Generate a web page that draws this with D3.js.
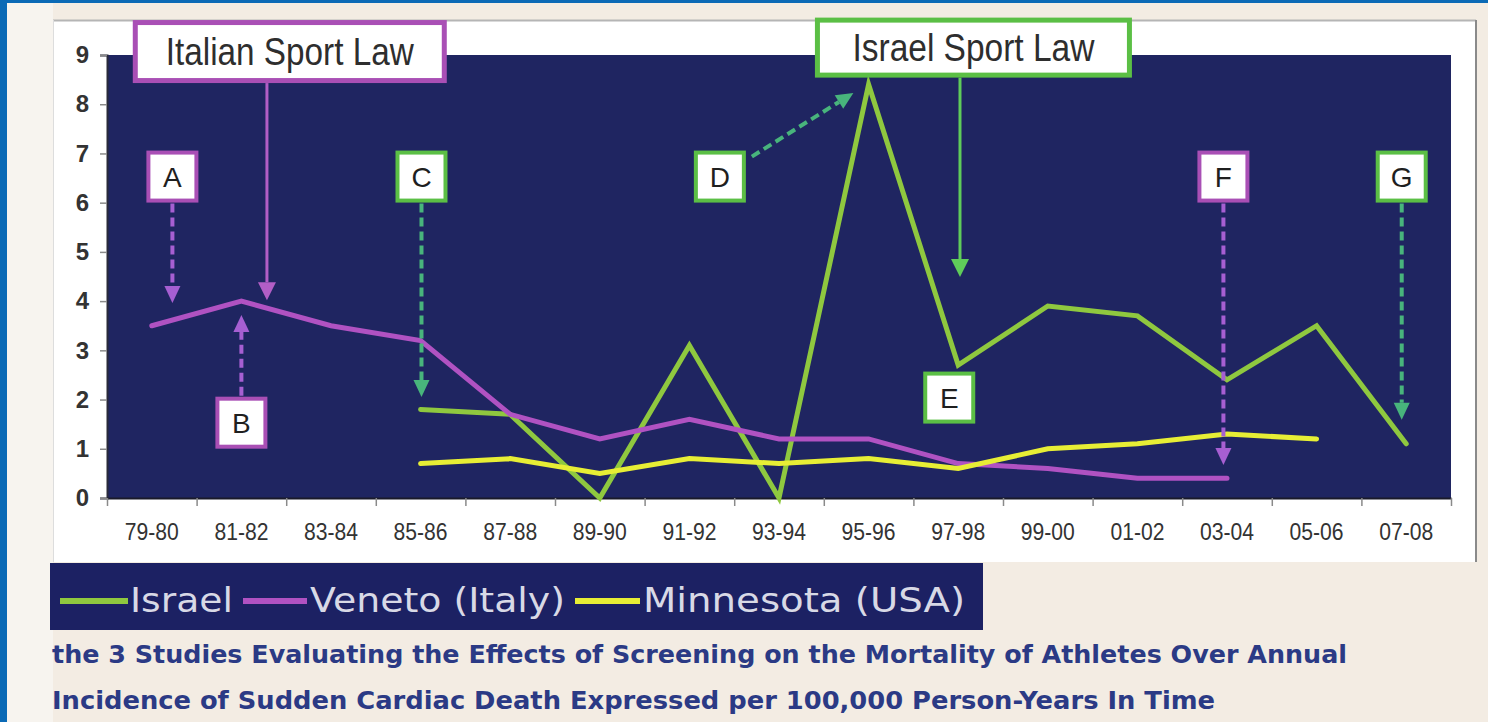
<!DOCTYPE html>
<html>
<head>
<meta charset="utf-8">
<script src="https://cdn.jsdelivr.net/npm/d3@7"></script>
<style>
  body { margin: 0; background: #f3ece3; }
  svg { display: block; }
</style>
</head>
<body>
<svg id="chart" width="1488" height="722"></svg>
<script>
// Two-year periods on the x axis
const categories = ["79-80", "81-82", "83-84", "85-86", "87-88", "89-90", "91-92",
  "93-94", "95-96", "97-98", "99-00", "01-02", "03-04", "05-06", "07-08"];

// Annual incidence of sudden cardiac death per 100,000 person-years
const israel    = [null, null, null, 1.8, 1.7, 0.0, 3.1, 0.0, 8.4, 2.7, 3.9, 3.7, 2.4, 3.5, 1.1];
const veneto    = [3.5, 4.0, 3.5, 3.2, 1.7, 1.2, 1.6, 1.2, 1.2, 0.7, 0.6, 0.4, 0.4, null, null];
const minnesota = [null, null, null, 0.7, 0.8, 0.5, 0.8, 0.7, 0.8, 0.6, 1.0, 1.1, 1.3, 1.2, null];

const yTicks = [0, 1, 2, 3, 4, 5, 6, 7, 8, 9];
const seriesNames = ["Israel", "Veneto (Italy)", "Minnesota (USA)"];
const captionLines = [
  "the 3 Studies Evaluating the Effects of Screening on the Mortality of Athletes Over Annual",
  "Incidence of Sudden Cardiac Death Expressed per 100,000 Person-Years In Time"
];

// Callouts, placed in chart units: at = [period index, value]
const lawNotes = [
  { text: "Italian Sport Law", tone: "purple", at: [1.54, 9.07], w: 314, h: 63, textLen: 248,
    arrowX: 1.285, arrowTo: 4.02 },
  { text: "Israel Sport Law", tone: "green", at: [9.17, 9.15], w: 317, h: 60, textLen: 242,
    arrowX: 9.02, arrowTo: 4.49 }
];
const letterNotes = [
  { text: "A", tone: "purple", at: [0.23, 6.53], from: "bottom", to: [0.23, 3.96] },
  { text: "B", tone: "purple", at: [1.0, 1.53],  from: "top",    to: [1.0, 3.72] },
  { text: "C", tone: "green",  at: [3.01, 6.53], from: "bottom", to: [3.01, 2.05] },
  { text: "D", tone: "green",  at: [6.34, 6.53], from: "right",  to: [7.83, 8.23] },
  { text: "E", tone: "green",  at: [8.90, 2.04], from: null,     to: null },
  { text: "F", tone: "purple", at: [11.96, 6.53], from: "bottom", to: [11.96, 0.67] },
  { text: "G", tone: "green",  at: [13.95, 6.53], from: "bottom", to: [13.95, 1.59] }
];

const colors = {
  israel: "#8fc83f",
  veneto: "#b052c2",
  minnesota: "#e7ee35",
  plot: "#1f2561",
  purpleBox: "#a94fb5",
  greenBox: "#5bbf45",
  purpleArrow: "#b25ec6",
  greenArrow: "#5fcc5a",
  purpleDash: "#a65fd2",
  greenDash: "#48b47c"
};

const svg = d3.select("#chart");

// Page frame
svg.append("rect").attr("width", 1488).attr("height", 722).attr("fill", "#f3ece3");
svg.append("rect").attr("x", 7).attr("y", 3).attr("width", 46).attr("height", 719).attr("fill", "#f7f4ef");
svg.append("rect").attr("width", 7).attr("height", 722).attr("fill", "#0b6ab6");
svg.append("rect").attr("width", 1488).attr("height", 3).attr("fill", "#0b6ab6");

// White chart panel
svg.append("rect").attr("x", 53).attr("y", 20).attr("width", 1423).attr("height", 542).attr("fill", "#ffffff");
svg.append("line").attr("x1", 53).attr("x2", 1476).attr("y1", 20.5).attr("y2", 20.5)
  .attr("stroke", "#b5b5b5").attr("stroke-width", 2);
svg.append("line").attr("x1", 1476).attr("x2", 1476).attr("y1", 20).attr("y2", 562)
  .attr("stroke", "#8a8a8a").attr("stroke-width", 2);
svg.append("line").attr("x1", 53.5).attr("x2", 53.5).attr("y1", 20).attr("y2", 562)
  .attr("stroke", "#dddddd").attr("stroke-width", 1);

const plot = { left: 107, right: 1451, top: 55, bottom: 498 };

const x = d3.scaleBand().domain(categories).range([plot.left, plot.right]).padding(0);
const xPos = d3.scaleLinear().domain([-0.5, categories.length - 0.5]).range([plot.left, plot.right]);
const xEdges = d3.scaleLinear().domain([0, categories.length]).range([plot.left, plot.right]);
const y = d3.scaleLinear().domain([0, 9]).range([plot.bottom, plot.top]);

svg.append("rect")
  .attr("x", plot.left).attr("y", plot.top)
  .attr("width", plot.right - plot.left).attr("height", plot.bottom - plot.top)
  .attr("fill", colors.plot);

// Y axis
const yAxis = svg.append("g")
  .attr("transform", `translate(${plot.left},0)`)
  .call(d3.axisLeft(y).tickValues(yTicks).tickSize(7).tickPadding(11));
yAxis.select(".domain").attr("stroke", "#2a2a3a").attr("stroke-width", 2);
yAxis.selectAll(".tick line").attr("stroke", "#8a8a8a").attr("stroke-width", 1.5);
yAxis.selectAll(".tick text")
  .attr("fill", "#333333")
  .style("font-family", "'Liberation Sans Narrow', 'Arial Narrow', 'Liberation Sans', sans-serif")
  .style("font-weight", "bold")
  .style("font-size", "24px");

// X axis: labels at period centres, tick marks on period boundaries
const xAxis = svg.append("g")
  .attr("transform", `translate(0,${plot.bottom})`)
  .call(d3.axisBottom(x).tickSize(0).tickPadding(25));
xAxis.select(".domain").attr("stroke", "#1a1a2a").attr("stroke-width", 2);
xAxis.selectAll(".tick text")
  .attr("fill", "#333333")
  .attr("textLength", 54)
  .attr("lengthAdjust", "spacingAndGlyphs")
  .style("font-family", "'Liberation Sans Narrow', 'Arial Narrow', 'Liberation Sans', sans-serif")
  .style("font-size", "24px");

const edgeAxis = svg.append("g")
  .attr("transform", `translate(0,${plot.bottom})`)
  .call(d3.axisBottom(xEdges).tickValues(d3.range(0, categories.length + 1)).tickSize(8).tickFormat(""));
edgeAxis.select(".domain").remove();
edgeAxis.selectAll(".tick line").attr("stroke", "#8a8a8a").attr("stroke-width", 1.5);

// Series lines
const line = d3.line()
  .defined(d => d.v != null)
  .x(d => x(d.c) + x.bandwidth() / 2)
  .y(d => y(d.v));

const series = [
  { values: israel, color: colors.israel },
  { values: veneto, color: colors.veneto },
  { values: minnesota, color: colors.minnesota }
];

const lines = svg.append("g");
series.forEach(s => {
  const pts = categories.map((c, i) => ({ c, v: s.values[i] }));
  lines.append("path")
    .datum(pts)
    .attr("d", line)
    .attr("fill", "none")
    .attr("stroke", s.color)
    .attr("stroke-width", 5)
    .attr("stroke-linejoin", "miter")
    .attr("stroke-miterlimit", 10)
    .attr("stroke-linecap", "round");
});

// Arrow helper: shaft plus filled head ending at (x2, y2)
const notes = svg.append("g");
function arrow(x1, y1, x2, y2, color, dashed, width, headLen, headHalf) {
  const dx = x2 - x1, dy = y2 - y1;
  const len = Math.hypot(dx, dy);
  const ux = dx / len, uy = dy / len;
  const bx = x2 - ux * headLen, by = y2 - uy * headLen;
  notes.append("line")
    .attr("x1", x1).attr("y1", y1).attr("x2", bx).attr("y2", by)
    .attr("stroke", color).attr("stroke-width", width)
    .attr("stroke-dasharray", dashed ? "9,5" : null);
  const px = -uy, py = ux;
  notes.append("path")
    .attr("d", `M${x2},${y2}L${bx + px * headHalf},${by + py * headHalf}L${bx - px * headHalf},${by - py * headHalf}Z`)
    .attr("fill", color);
}

// Sport-law callouts
lawNotes.forEach(n => {
  const cx = xPos(n.at[0]), cy = y(n.at[1]);
  const border = n.tone === "purple" ? colors.purpleBox : colors.greenBox;
  const arrowColor = n.tone === "purple" ? colors.purpleArrow : colors.greenArrow;
  const bottom = cy + n.h / 2;
  arrow(xPos(n.arrowX), bottom, xPos(n.arrowX), y(n.arrowTo), arrowColor, false, 3, 18, 9);
  notes.append("rect")
    .attr("x", cx - n.w / 2 + 2.5).attr("y", cy - n.h / 2 + 2.5)
    .attr("width", n.w - 5).attr("height", n.h - 5)
    .attr("fill", "#ffffff").attr("stroke", border).attr("stroke-width", 5);
  notes.append("text")
    .attr("x", cx).attr("y", cy + 13)
    .attr("text-anchor", "middle")
    .attr("textLength", n.textLen)
    .attr("lengthAdjust", "spacingAndGlyphs")
    .attr("fill", "#2e2e2e")
    .style("font-family", "'Liberation Sans Narrow', 'Arial Narrow', 'Liberation Sans', sans-serif")
    .style("font-size", "38px")
    .text(n.text);
});

// Lettered callouts
const box = 52;
letterNotes.forEach(n => {
  const cx = xPos(n.at[0]), cy = y(n.at[1]);
  const border = n.tone === "purple" ? colors.purpleBox : colors.greenBox;
  const dash = n.tone === "purple" ? colors.purpleDash : colors.greenDash;
  if (n.from) {
    let sx = cx, sy = cy;
    if (n.from === "bottom") sy = cy + box / 2 + 1;
    if (n.from === "top") sy = cy - box / 2 - 1;
    if (n.from === "right") { sx = cx + box / 2 + 6; sy = cy - box / 2 + 6; }
    arrow(sx, sy, xPos(n.to[0]), y(n.to[1]), dash, true, 4, 17, 8);
  }
  notes.append("rect")
    .attr("x", cx - box / 2 + 2).attr("y", cy - box / 2 + 2)
    .attr("width", box - 4).attr("height", box - 4)
    .attr("fill", "#ffffff").attr("stroke", border).attr("stroke-width", 4);
  notes.append("text")
    .attr("x", cx).attr("y", cy + 10)
    .attr("text-anchor", "middle")
    .attr("fill", "#1f1f1f")
    .style("font-family", "'Liberation Sans', Arial, sans-serif")
    .style("font-size", "28px")
    .text(n.text);
});

// Legend strip
const legend = svg.append("g");
legend.append("rect").attr("x", 50).attr("y", 563).attr("width", 933).attr("height", 67).attr("fill", "#1c2163");
const legendItems = [
  { name: seriesNames[0], color: colors.israel,    x1: 60,  x2: 128, tx: 130, len: 103 },
  { name: seriesNames[1], color: colors.veneto,    x1: 243, x2: 307, tx: 310, len: 255 },
  { name: seriesNames[2], color: colors.minnesota, x1: 575, x2: 640, tx: 643, len: 322 }
];
legendItems.forEach(it => {
  legend.append("line")
    .attr("x1", it.x1).attr("x2", it.x2).attr("y1", 601).attr("y2", 601)
    .attr("stroke", it.color).attr("stroke-width", 6);
  legend.append("text")
    .attr("x", it.tx).attr("y", 612)
    .attr("textLength", it.len)
    .attr("lengthAdjust", "spacingAndGlyphs")
    .attr("fill", "#d8d9e6")
    .style("font-family", "'DejaVu Sans', Verdana, sans-serif")
    .style("font-size", "33px")
    .text(it.name);
});

// Caption
const captionLens = [1295, 1163];
captionLines.forEach((t, i) => {
  svg.append("text")
    .attr("x", 52).attr("y", 663 + i * 46)
    .attr("textLength", captionLens[i])
    .attr("lengthAdjust", "spacingAndGlyphs")
    .attr("fill", "#2b3a85")
    .style("font-family", "'DejaVu Sans', Verdana, sans-serif")
    .style("font-weight", "bold")
    .style("font-size", "24px")
    .text(t);
});
</script>
</body>
</html>
